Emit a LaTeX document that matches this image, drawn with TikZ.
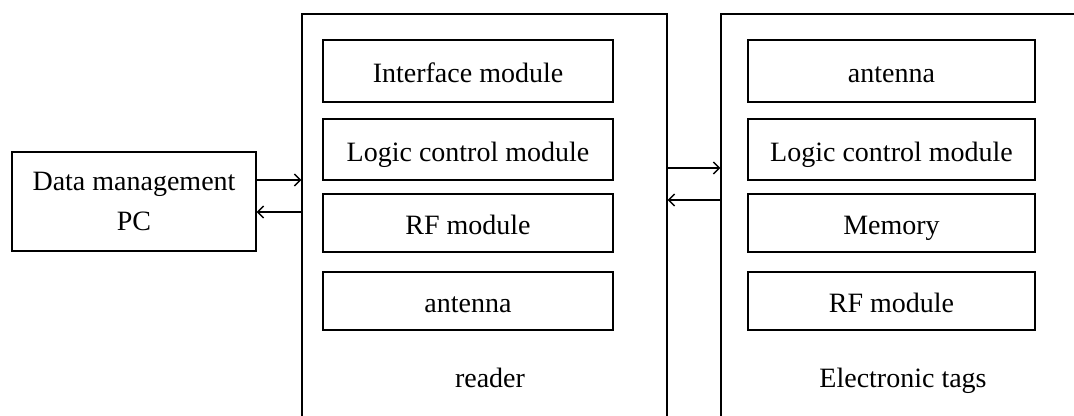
\documentclass[tikz,border=0pt]{standalone}
\usepackage{fontspec}
\setmainfont{Liberation Serif}
\usetikzlibrary{arrows.meta}
\begin{document}
\begin{tikzpicture}[x=0.5pt,y=-0.5pt,inner sep=0pt,line width=0.7pt,
		font=\fontsize{14}{20}\selectfont,>={Straight Barb[length=3pt,width=6pt]},
		lbl/.style={text height=12pt,text depth=0pt},
		rmod/.style={rectangle,draw,lbl,minimum width=145pt},
		tmod/.style={rectangle,draw,lbl,minimum width=143.5pt}]
		\clip (0,0) rectangle (1074,416);
		\node [rectangle,draw,minimum width=182.5pt,minimum height=208pt] (rd) at (484.5,222) {};
		\node [rectangle,draw,minimum width=184.5pt,minimum height=208pt] (tg) at (905.5,222) {};
		\node [rectangle,draw,minimum width=122pt,minimum height=49.5pt,align=center] (pc) at (134,201.5) {Data management\\PC};
%		reader
		\node [rmod,minimum height=31pt] (rif) at (468,71) {Interface module};
		\node [rmod,minimum height=30.5pt] (rlc) at (468,149.5) {Logic control module};
		\node [rmod,minimum height=29pt] (rrf) at (468,223) {RF module};
		\node [rmod,minimum height=29pt] (rant) at (468,301) {antenna};
		\node [lbl] (rl) at (490,375) {reader};
%		tags
		\node [tmod,minimum height=31pt] (tant) at (891.5,71) {antenna};
		\node [tmod,minimum height=30.5pt] (tlc) at (891.5,149.5) {Logic control module};
		\node [tmod,minimum height=29pt] (tmem) at (891.5,223) {Memory};
		\node [tmod,minimum height=29pt] (trf) at (891.5,301) {RF module};
		\node [lbl] (tl) at (903,375) {Electronic tags};
		\draw [->] (pc.east |- 0,180) -- (rd.west |- 0,180);
		\draw [<-] (pc.east |- 0,212) -- (rd.west |- 0,212);
		\draw [->] (rd.east |- 0,168) -- (tg.west |- 0,168);
		\draw [<-] (rd.east |- 0,200) -- (tg.west |- 0,200);
	\end{tikzpicture}
\end{document}
